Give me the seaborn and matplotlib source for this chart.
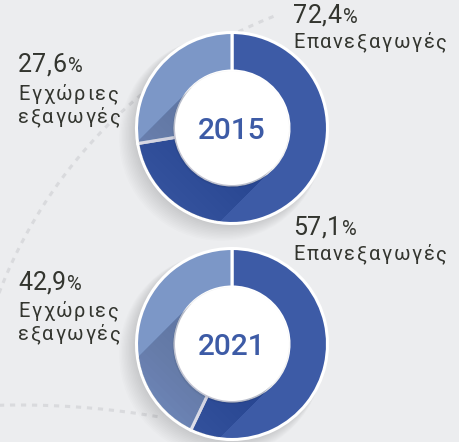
import numpy as np
import seaborn as sns
import matplotlib.pyplot as plt
from matplotlib.patches import Circle, Polygon

# Data
years = ["2015", "2021"]
reexports = [72.4, 57.1]      # Επανεξαγωγές
domestic = [27.6, 42.9]       # Εγχώριες εξαγωγές
reexp_label = "Επανεξαγωγές"
dom_label = "Εγχώριες\nεξαγωγές"

sns.set_theme(style="white")
plt.rcParams['font.family'] = ['Roboto', 'DejaVu Sans']

W, H = 459, 442
bg = "#ecedef"
dark_blue = "#3d5ba6"
light_blue = "#7c97c7"
text_col = "#33352f"

fig = plt.figure(figsize=(W / 100, H / 100), dpi=100)
fig.patch.set_facecolor(bg)
ax = fig.add_axes([0, 0, 1, 1])
ax.set_facecolor(bg)
ax.set_xlim(0, W)
ax.set_ylim(0, H)
ax.set_aspect("equal")
ax.axis("off")
renderer = fig.canvas.get_renderer()


def tracked_text(x, y, s, size, track, **kw):
    """Draw a string with extra letter spacing, one character at a time."""
    def width(part):
        if not part:
            return 0.0
        t = ax.text(0, 0, part, fontsize=size, **kw)
        w = t.get_window_extent(renderer).width
        t.remove()
        return w
    for k, ch in enumerate(s):
        if ch == " ":
            continue
        xk = x + width(s[:k + 1]) - width(ch) + k * track
        ax.text(xk, y, ch, fontsize=size, ha="left", va="baseline", zorder=7, **kw)
    return x + width(s) + (len(s) - 1) * track


# dashed background arcs
dash = (0, (1.7, 1.9))
t = np.linspace(np.radians(181), np.radians(249), 300)
ax.plot(450 + 483 * np.cos(t), H - (466 + 483 * np.sin(t)), ls=dash,
        color="#d9dadd", lw=2.2, zorder=0)
t = np.linspace(np.radians(-100), np.radians(-80), 200)
ax.plot(20 + 817 * np.cos(t), H - (1222 + 817 * np.sin(t)), ls=dash,
        color="#d9dadd", lw=2.2, zorder=0)

centers = [(232, 128), (232, 344)]
R, r_in = 95.5, 57

for i, year in enumerate(years):
    cx, cy = centers[i][0], H - centers[i][1]

    # soft outer shadow to the lower left
    for k in range(12):
        ax.add_patch(Circle((cx - 2 - k * 0.8, cy - 2 - k * 0.8), R + k * 0.6,
                            color="black", alpha=0.01, lw=0, zorder=1))

    wedges, _ = ax.pie([reexports[i], domestic[i]], colors=[dark_blue, light_blue],
                       startangle=90, counterclock=False, center=(cx, cy), radius=R,
                       wedgeprops=dict(width=R - r_in, edgecolor="white", linewidth=2.2))
    for w in wedges:
        w.set_zorder(2)

    # long shadow of the inner circle (down-left), smooth fade
    clip = Circle((cx, cy), R - 1.2, transform=ax.transData)
    d = np.array([-1, -1]) / np.sqrt(2)
    p = np.array([-1, 1]) / np.sqrt(2)
    for L in np.linspace(150, 30, 20):
        pts = [(cx + r_in * p[0], cy + r_in * p[1]),
               (cx - r_in * p[0], cy - r_in * p[1]),
               (cx - r_in * p[0] + L * d[0], cy - r_in * p[1] + L * d[1]),
               (cx + r_in * p[0] + L * d[0], cy + r_in * p[1] + L * d[1])]
        poly = Polygon(pts, closed=True, color="#1a2a55", alpha=0.012, lw=0, zorder=3)
        ax.add_patch(poly)
        poly.set_clip_path(clip)

    ax.add_patch(Circle((cx - 1, cy - 1.5), r_in + 1.5, color="black", alpha=0.06, lw=0, zorder=4))
    ax.add_patch(Circle((cx, cy), r_in, color="white", lw=0, zorder=5))
    ax.text(cx, cy, year, ha="center", va="center_baseline", fontsize=21.5,
            fontweight="medium", color=dark_blue, zorder=6)

# value labels
label_pos = [
    # (x, number baseline, text baseline, value, text)
    (293, 23, 48, reexports[0], reexp_label),
    (18, 72, 100, domestic[0], dom_label),
    (293, 235, 260, reexports[1], reexp_label),
    (18, 290, 317, domestic[1], dom_label),
]
for x, yb, yl, val, txt in label_pos:
    end = tracked_text(x, H - yb, f"{val:.1f}".replace(".", ","), 18, 0.3, color=text_col)
    ax.text(end + 1.5, H - yb, "%", ha="left", va="baseline", fontsize=14.5,
            color=text_col, zorder=7)
    for j, line in enumerate(txt.split("\n")):
        tracked_text(x, H - yl - j * 23, line, 14.5, 1.7, color=text_col)

ax.set_xlim(0, W)
ax.set_ylim(0, H)

fig.savefig("out.png", dpi=100, facecolor=bg)
